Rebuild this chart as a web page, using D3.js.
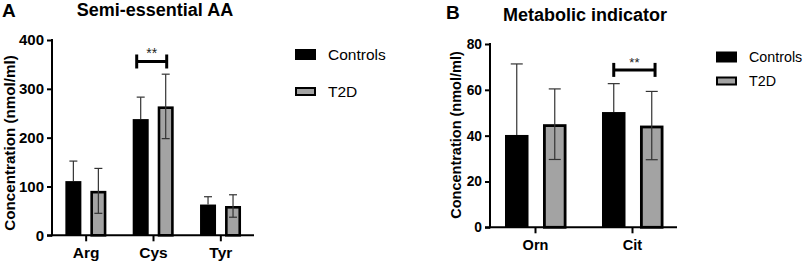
<!DOCTYPE html>
<html><head><meta charset="utf-8">
<script src="https://cdn.jsdelivr.net/npm/d3@7"></script>
<style>body{margin:0;background:#fff;}svg{display:block;font-family:"Liberation Sans",Arial,sans-serif;}</style>
</head><body>
<svg id="chart" width="803" height="264"></svg>
<script>
// ---- Data ----
const seriesNames = ["Controls", "T2D"];
const catsA = ["Arg", "Cys", "Tyr"];
const controlsA = [111, 238, 63];
const controlsSdA = [41, 45, 16];
const t2dA = [91, 264, 60];
const t2dSdA = [46, 66, 23];
const yTicksA = [0, 100, 200, 300, 400];
const sigA = ["Cys", "**", 356];

const catsB = ["Orn", "Cit"];
const controlsB = [40.3, 50.3];
const controlsSdB = [31, 12.4];
const t2dB = [45, 44.4];
const t2dSdB = [15.4, 14.9];
const yTicksB = [0, 20, 40, 60, 80];
const sigB = ["Cit", "**", 68.7];

const svg = d3.select("#chart");
const GRAY = "#a3a3a3";
const FF = "Liberation Sans, Arial, sans-serif";

function panel(o) {
  const g = svg.append("g");
  const x = d3.scalePoint().domain(o.cats).range([o.x0, o.x1]).padding(o.pad);
  const y = d3.scaleLinear().domain([0, o.ymax]).range([o.y0, o.y1]);

  // panel letter and title
  g.append("text").attr("x", o.letterX).attr("y", o.letterY).attr("font-size", o.letterFs)
    .attr("font-weight", "bold").text(o.letter);
  g.append("text").attr("x", o.titleX).attr("y", o.titleY).attr("font-size", o.titleFs)
    .attr("font-weight", "bold").attr("text-anchor", "middle").text(o.title);

  // y axis
  const ya = g.append("g").attr("transform", `translate(${o.x0},0)`)
    .call(d3.axisLeft(y).tickValues(o.yTicks).tickSize(o.tick).tickPadding(3).tickFormat(d3.format("d")));
  ya.select(".domain").attr("stroke", "#000").attr("stroke-width", 2).attr("d", `M0,${o.y0 + 1}V${o.y1 - 1}`);
  ya.selectAll(".tick line").attr("stroke", "#000").attr("stroke-width", 2);
  ya.selectAll(".tick text").attr("font-size", o.tickFs).attr("font-weight", "bold").attr("fill", "#000")
    .attr("font-family", FF);

  // x axis
  const xa = g.append("g").attr("transform", `translate(0,${o.y0})`)
    .call(d3.axisBottom(x).tickSize(o.tick + 1).tickPadding(o.xpad));
  xa.select(".domain").attr("stroke", "#000").attr("stroke-width", 2).attr("d", `M${o.x0 - o.tick},0H${o.x1}`);
  xa.selectAll(".tick line").attr("stroke", "#000").attr("stroke-width", 2);
  xa.selectAll(".tick text").attr("font-size", o.xFs).attr("font-weight", "bold").attr("fill", "#000")
    .attr("font-family", FF);

  // y-axis title
  g.append("text").attr("transform", `translate(${o.ytX},${o.ytY}) rotate(-90)`)
    .attr("text-anchor", "middle").attr("font-size", o.ytFs).attr("font-weight", "bold").text("Concentration (nmol/ml)");

  const series = [
    {vals: o.ctrl, sd: o.ctrlSd, off: o.off[0], fill: "#000", sw: 0, both: false},
    {vals: o.t2d, sd: o.t2dSd, off: o.off[1], fill: GRAY, sw: o.sw, both: true}
  ];
  series.forEach(s => {
    const bars = g.append("g");
    o.cats.forEach((c, i) => {
      const left = x(c) + s.off;
      const top = y(s.vals[i]);
      bars.append("rect")
        .attr("x", left + s.sw / 2).attr("y", top + s.sw / 2)
        .attr("width", o.bw - s.sw).attr("height", o.y0 - top - s.sw / 2)
        .attr("fill", s.fill).attr("stroke", s.sw ? "#000" : "none").attr("stroke-width", s.sw);
      const cx = left + o.bw / 2;
      const hi = y(s.vals[i] + s.sd[i]);
      const lo = s.both ? y(s.vals[i] - s.sd[i]) : top;
      bars.append("line").attr("x1", cx).attr("x2", cx).attr("y1", hi).attr("y2", lo)
        .attr("stroke", "#333").attr("stroke-width", 1.2);
      const caps = s.both ? [hi, lo] : [hi];
      caps.forEach(yy => bars.append("line").attr("x1", cx - o.cap).attr("x2", cx + o.cap)
        .attr("y1", yy).attr("y2", yy).attr("stroke", "#333").attr("stroke-width", 1.2));
    });
  });

  // significance bracket
  const sc = x(o.sig[0]);
  const sy = y(o.sig[2]);
  const bx0 = sc + o.off[0] + o.bw / 2 - o.brIn, bx1 = sc + o.off[1] + o.bw / 2 + o.brOut;
  const br = g.append("g").attr("stroke", "#000").attr("stroke-width", 3);
  br.append("line").attr("x1", bx0).attr("x2", bx1).attr("y1", sy).attr("y2", sy);
  br.append("line").attr("x1", bx0).attr("x2", bx0).attr("y1", sy - 7).attr("y2", sy + 7);
  br.append("line").attr("x1", bx1).attr("x2", bx1).attr("y1", sy - 7).attr("y2", sy + 7);
  g.append("text").attr("x", (bx0 + bx1) / 2).attr("y", sy - 3).attr("text-anchor", "middle")
    .attr("font-size", o.sigFs).attr("fill", "#222").text(o.sig[1]);

  // legend
  const lg = g.append("g");
  seriesNames.forEach((n, i) => {
    const ly = o.legY[i];
    if (i === 0) {
      lg.append("rect").attr("x", o.legX).attr("y", ly - 5.5).attr("width", 21).attr("height", 11).attr("fill", "#000");
    } else {
      lg.append("rect").attr("x", o.legX + 1).attr("y", ly - 3.5).attr("width", 19).attr("height", 7)
        .attr("fill", GRAY).attr("stroke", "#000").attr("stroke-width", 2);
    }
    lg.append("text").attr("x", o.legX + 33).attr("y", ly).attr("dy", "0.36em")
      .attr("font-size", o.legFs).attr("fill", "#000").text(n);
  });
}

panel({
  cats: catsA, ctrl: controlsA, ctrlSd: controlsSdA, t2d: t2dA, t2dSd: t2dSdA, yTicks: yTicksA, sig: sigA,
  x0: 52, x1: 254, pad: 0.5, ymax: 400, y0: 235.3, y1: 40, tick: 5, xpad: 6,
  tickFs: 15, xFs: 15.5, ytFs: 15.2, titleFs: 18, letterFs: 19, sigFs: 14,
  bw: 16, off: [-20.3, 4.7], sw: 2.6, cap: 4, brIn: 4, brOut: 1,
  letter: "A", letterX: 2, letterY: 17, title: "Semi-essential AA", titleX: 155, titleY: 15.5, ytX: 15, ytY: 143,
  legX: 295, legY: [54.5, 91.5], legFs: 15.5
});

panel({
  cats: catsB, ctrl: controlsB, ctrlSd: controlsSdB, t2d: t2dB, t2dSd: t2dSdB, yTicks: yTicksB, sig: sigB,
  x0: 490, x1: 677, pad: 0.464, ymax: 80, y0: 227.3, y1: 44, tick: 5, xpad: 6,
  tickFs: 13.8, xFs: 14.5, ytFs: 14.5, titleFs: 18, letterFs: 19, sigFs: 13,
  bw: 23.5, off: [-30, 8], sw: 2.8, cap: 6, brIn: 0, brOut: 3.3,
  letter: "B", letterX: 446, letterY: 18.5, title: "Metabolic indicator", titleX: 585, titleY: 21, ytX: 461, ytY: 135,
  legX: 716, legY: [57, 81], legFs: 14.3
});
</script>
</body></html>
